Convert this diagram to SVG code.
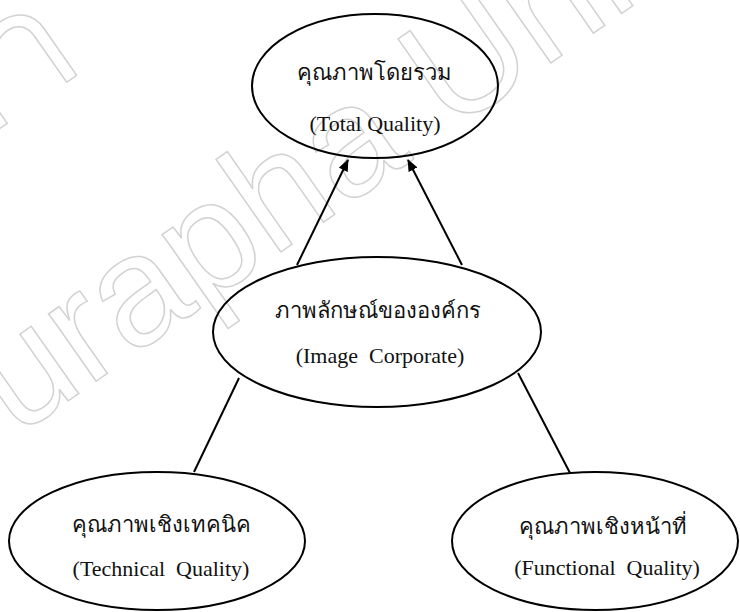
<svg xmlns="http://www.w3.org/2000/svg" width="740" height="612" viewBox="0 0 740 612">
  <style>
    .node ellipse { fill: none; stroke: #000; stroke-width: 2; }
    .label { font-family: "Liberation Serif", "Times New Roman", serif; font-size: 22px; fill: #111; text-anchor: middle; }
    .edge { stroke: #000; stroke-width: 2; fill: none; }
    .mark { font-family: "Liberation Sans", Arial, sans-serif; font-size: 156px; fill: none; stroke: #d2d2d2; stroke-width: 1.5; }
  </style>
  <defs>
    <marker id="arrow" viewBox="0 0 12 10" refX="11" refY="5" markerWidth="12" markerHeight="10" markerUnits="userSpaceOnUse" orient="auto">
      <path d="M0,0 L12,5 L0,10 Z" fill="#000"/>
    </marker>
  </defs>
  <rect width="740" height="612" fill="#fff"/>

  <!-- background watermark -->
  <g id="watermark" transform="translate(-69,497) rotate(-35)">
    <text class="mark" x="0" y="0">Burapha University</text>
    <text class="mark" x="376" y="-262" text-anchor="end">มหาวิทยาลัยบูรพา</text>
  </g>

  <!-- connectors -->
  <g id="connectors">
    <line class="edge" x1="297" y1="265" x2="348" y2="160" marker-end="url(#arrow)"/>
    <line class="edge" x1="462" y1="265" x2="408" y2="160" marker-end="url(#arrow)"/>
    <line class="edge" x1="239" y1="378" x2="194" y2="472"/>
    <line class="edge" x1="518" y1="373" x2="570" y2="473"/>
  </g>

  <g id="total" class="node">
    <ellipse cx="375" cy="86" rx="123" ry="72"/>
    <text class="label" x="374" y="80">คุณภาพโดยรวม</text>
    <text class="label" x="375" y="131">(Total Quality)</text>
  </g>

  <g id="image" class="node">
    <ellipse cx="377" cy="332" rx="164" ry="75"/>
    <text class="label" x="378" y="318">ภาพลักษณ์ขององค์กร</text>
    <text class="label" x="380" y="363" xml:space="preserve">(Image  Corporate)</text>
  </g>

  <g id="technical" class="node">
    <ellipse cx="157" cy="541" rx="148" ry="69"/>
    <text class="label" x="161" y="532">คุณภาพเชิงเทคนิค</text>
    <text class="label" x="161" y="576" xml:space="preserve">(Technical  Quality)</text>
  </g>

  <g id="functional" class="node">
    <ellipse cx="595" cy="541" rx="143" ry="69"/>
    <text class="label" x="603" y="534">คุณภาพเชิงหน้าที่</text>
    <text class="label" x="607" y="575" xml:space="preserve">(Functional  Quality)</text>
  </g>
</svg>
